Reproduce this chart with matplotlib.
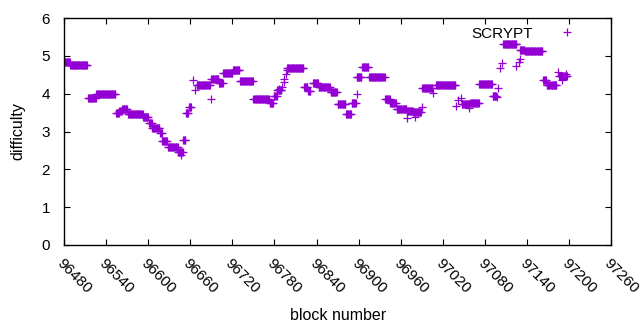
import numpy as np
import matplotlib
matplotlib.use("Agg")
import matplotlib.pyplot as plt

# flat difficulty runs: first block, last block, difficulty
runStart = [96481, 96489, 96514, 96526, 96554, 96559, 96563, 96571, 96593, 96601,
            96606, 96617, 96620, 96628, 96643, 96650, 96654, 96658, 96669, 96690,
            96701, 96707, 96721, 96731, 96750, 96773, 96779, 96784, 96798, 96822,
            96828, 96835, 96843, 96860, 96870, 96882, 96890, 96897, 96905, 96915,
            96938, 96945, 96954, 96969, 96978, 96991, 97010, 97047, 97059, 97072,
            97091, 97106, 97130, 97137, 97163, 97168, 97186]
runEnd   = [96488, 96513, 96525, 96553, 96558, 96562, 96570, 96592, 96600, 96605,
            96616, 96619, 96627, 96642, 96649, 96653, 96657, 96661, 96688, 96700,
            96706, 96720, 96730, 96749, 96772, 96778, 96783, 96790, 96821, 96827,
            96831, 96842, 96859, 96869, 96881, 96889, 96896, 96904, 96914, 96937,
            96944, 96953, 96968, 96977, 96989, 97005, 97038, 97058, 97071, 97090,
            97096, 97125, 97136, 97162, 97167, 97182, 97197]
runValue = [4.83, 4.75, 3.88, 3.98, 3.48, 3.53, 3.59, 3.46, 3.38, 3.22,
            3.10, 2.96, 2.74, 2.59, 2.46, 2.78, 3.50, 3.66, 4.22, 4.40,
            4.28, 4.54, 4.64, 4.33, 3.85, 3.76, 3.95, 4.10, 4.69, 4.18,
            4.07, 4.29, 4.17, 4.05, 3.73, 3.46, 3.75, 4.44, 4.72, 4.45,
            3.85, 3.75, 3.60, 3.55, 3.52, 4.14, 4.22, 3.73, 3.75, 4.27,
            3.95, 5.31, 5.15, 5.12, 4.35, 4.22, 4.46]

# single blocks sitting off the runs
ptBlock = [96647, 96664, 96667, 96689, 96787, 96791, 96793, 96794, 96796, 96798,
           96898, 96969, 96981, 96990, 97006, 97039, 97042, 97046, 97057, 97097,
           97099, 97102, 97104, 97125, 97128, 97130, 97184, 97190, 97195]
ptValue = [2.38, 4.36, 4.10, 3.86, 4.12, 4.18, 4.30, 4.40, 4.51, 4.63,
           3.99, 3.35, 3.39, 3.64, 4.01, 3.67, 3.83, 3.89, 3.61, 3.90,
           4.14, 4.67, 4.80, 4.74, 4.85, 4.93, 4.58, 4.36, 4.52]

xTicks = list(range(96480, 97261, 60))

blocks = []
diffs = []
for s, e, v in zip(runStart, runEnd, runValue):
    b = np.arange(s, e + 1)
    blocks.extend(b)
    diffs.extend([v] * len(b))
blocks.extend(ptBlock)
diffs.extend(ptValue)

plt.rcParams['font.family'] = ['Liberation Sans', 'DejaVu Sans']

fig = plt.figure(figsize=(6.4, 3.3), dpi=100)
ax = fig.add_axes([0.1, 0.258, 0.855, 0.687])

ax.plot(blocks, diffs, linestyle='none', marker='+', markersize=5.5,
        markeredgewidth=0.9, color='#9400d3', label='SCRYPT')

ax.set_xlim(96480, 97260)
ax.set_ylim(0, 6)
ax.set_xticks(xTicks)
ax.set_yticks(range(0, 7))
ax.tick_params(direction='in', length=4, width=0.8, top=True, right=True,
               labelsize=11, colors='black')
ax.tick_params(axis='x', pad=8)
ax.tick_params(axis='y', pad=10)
for lab in ax.get_xticklabels():
    lab.set_rotation(-45)
    lab.set_ha('left')
    lab.set_va('top')
    lab.set_rotation_mode('anchor')
for sp in ax.spines.values():
    sp.set_linewidth(1.0)

ax.set_xlabel('block number', fontsize=11.5, labelpad=9)
ax.set_ylabel('difficulty', fontsize=11.5, labelpad=12)

ax.legend(loc='upper right', frameon=False, markerfirst=False, fontsize=11,
          handlelength=1.5, handletextpad=1.5, borderaxespad=0.0,
          bbox_to_anchor=(0.952, 0.99))

fig.savefig('out.png', dpi=100)
